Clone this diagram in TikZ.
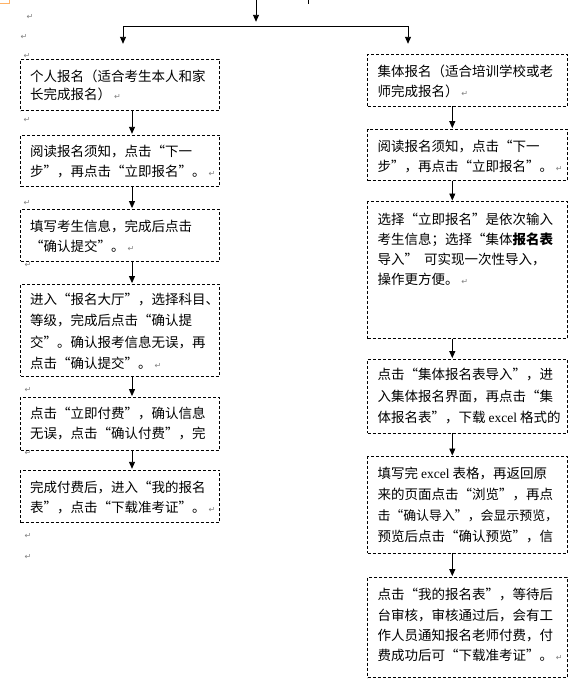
\documentclass[tikz,border=0pt]{standalone}
\usepackage{fontspec}
\newfontfamily\cjk{Noto Sans CJK SC}
\newfontfamily\symf{DejaVu Sans}
\newfontfamily\lat{Liberation Serif}
\usetikzlibrary{arrows.meta}
\tikzset{
  box/.style={draw, line width=0.9pt, dash pattern=on 3pt off 2pt, anchor=north west, inner sep=0pt, outer sep=0pt},
  txt/.style={anchor=base west, inner sep=0pt, font=\cjk\fontsize{13.5}{16}\selectfont},
  arr/.style={line width=0.9pt, -{Triangle[length=7pt,width=6pt]}, shorten >=1.2pt},
  ln/.style={line width=0.9pt},
  pm/.style={inner sep=0pt, text=black!50, font=\symf\fontsize{8}{8}\selectfont},
  pme/.style={pm, anchor=base west},
}
\newcommand\blines[5]{%
  \foreach \t [count=\i] in {#5}{\node[txt] (#1-\i) at (#2,{#3+(\i-1)*#4+4.8}) {\t};}}
\begin{document}
\begin{tikzpicture}[x=1pt,y=-1pt]
\useasboundingbox[fill=white] (0,0) rectangle (580,688);
% top
\draw[orange!60, line width=0.6pt] (0,3) -- (9,3) -- (9,0);
\draw[line width=1pt] (308,0) -- (308,3.5);
\coordinate (top) at (256,0);
\coordinate (topend) at (256,23);
\coordinate (bl) at (123,26);
\coordinate (br) at (408,26);
\coordinate (el) at (123,45);
\coordinate (er) at (408,45);
\draw[arr] (top) -- (topend);
\draw[ln] (bl) -- (br);
\draw[arr] (bl) -- (el);
\draw[arr] (br) -- (er);
% left boxes
\node[box, minimum width=198.6pt, minimum height=51.4pt] (L1) at (20.7,59.3) {};
\node[box, minimum width=198.6pt, minimum height=51.7pt] (L2) at (20.7,135) {};
\node[box, minimum width=198.6pt, minimum height=51.7pt] (L3) at (20.7,209.3) {};
\node[box, minimum width=198.6pt, minimum height=91.7pt] (L4) at (20.7,284.3) {};
\node[box, minimum width=198.6pt, minimum height=52.7pt] (L5) at (20.7,397.3) {};
\node[box, minimum width=198.6pt, minimum height=52.7pt] (L6) at (20.7,470) {};
% right boxes
\node[box, minimum width=199.6pt, minimum height=52pt] (R1) at (367.7,54) {};
\node[box, minimum width=199.6pt, minimum height=51.4pt] (R2) at (367.7,129.3) {};
\node[box, minimum width=199.6pt, minimum height=137pt] (R3) at (367.7,201.7) {};
\node[box, minimum width=199.6pt, minimum height=74pt] (R4) at (367.7,359.3) {};
\node[box, minimum width=199.6pt, minimum height=96.6pt] (R5) at (367.7,456.7) {};
\node[box, minimum width=199.6pt, minimum height=100.4pt] (R6) at (367.7,577.3) {};
% arrows
\coordinate (lx) at (132,0);
\coordinate (rx) at (452.3,0);
\draw[arr] (L1.south -| lx) -- (L2.north -| lx);
\draw[arr] (L2.south -| lx) -- (L3.north -| lx);
\draw[arr] (L3.south -| lx) -- (L4.north -| lx);
\draw[arr] (L4.south -| lx) -- (L5.north -| lx);
\draw[arr] (L5.south -| lx) -- (L6.north -| lx);
\draw[arr] (R1.south -| rx) -- (R2.north -| rx);
\draw[arr] (R2.south -| rx) -- (R3.north -| rx);
\draw[arr] (R3.south -| rx) -- (R4.north -| rx);
\draw[arr] (R4.south -| rx) -- (R5.north -| rx);
\draw[arr] (R5.south -| rx) -- (R6.north -| rx);
% texts left
\blines{L1t}{30}{76.7}{18.3}{个人报名（适合考生本人和家,长完成报名）}
\blines{L2t}{30}{151.7}{20}{阅读报名须知，点击“下一,步”，再点击“立即报名”。}
\blines{L3t}{30}{226.7}{19.5}{填写考生信息，完成后点击,“确认提交”。}
\blines{L4t}{30}{300}{21.1}{进入“报名大厅”，选择科目、,等级，完成后点击“确认提,交”。确认报考信息无误，再,点击“确认提交”。}
\blines{L5t}{30}{413.3}{20.7}{点击“立即付费”，确认信息,无误，点击“确认付费”，完}
\blines{L6t}{30}{487.3}{20}{完成付费后，进入“我的报名,表”，点击“下载准考证”。}
% texts right
\blines{R1t}{377.3}{71.7}{20}{集体报名（适合培训学校或老,师完成报名）}
\blines{R2t}{377.3}{146.7}{20}{阅读报名须知，点击“下一,步”，再点击“立即报名”。}
\blines{R3t}{377.3}{220}{19.8}{选择“立即报名”是依次输入,{考生信息；选择“集体\textbf{报名表}},导入”\ \ 可实现一次性导入，,操作更方便。}
\blines{R4t}{377.3}{375}{21.3}{点击“集体报名表导入”，进,入集体报名界面，再点击“集,{体报名表”，下载 {\lat excel} 格式的}}
\blines{R5t}{377.3}{473.3}{21.1}{{填写完 {\lat excel} 表格，再返回原},来的页面点击“浏览”，再点,{\fontsize{12.9}{16}\selectfont 击“确认导入”，会显示预览，},预览后点击“确认预览”，信}
\blines{R6t}{377.3}{595}{20.3}{点击“我的报名表”，等待后,台审核，审核通过后，会有工,作人员通知报名老师付费，付,费成功后可“下载准考证”。}
% paragraph marks outside boxes
\foreach \px/\py [count=\k] in {30/17,24/37,27/56,27/120,27/203,28/265,28/390,28/453,28/536,28/557}
  \node[pm] (pm\k) at (\px,\py) {↵};
% paragraph marks at ends of texts
\foreach \n [count=\k] in {L1t-2,L2t-2,L3t-2,L4t-4,L6t-2,R1t-2,R2t-2,R3t-4,R6t-4}
  \node[pme] (pe\k) at ([xshift=2.5pt]\n.base east) {↵};
\end{tikzpicture}
\end{document}
